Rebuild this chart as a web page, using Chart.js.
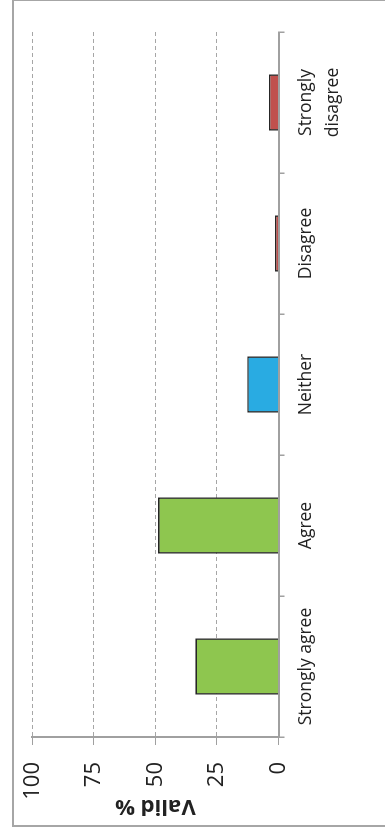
<!DOCTYPE html>
<html>
<head>
<meta charset="utf-8">
<title>Valid %</title>
<script src="https://cdn.jsdelivr.net/npm/chart.js@4/dist/chart.umd.min.js"></script>
<style>
  html, body { margin: 0; padding: 0; background: #fff; }
  body { width: 385px; height: 830px; position: relative; overflow: hidden; }
  #frame { position: absolute; left: 12px; top: -1px; width: 390px; height: 828px; border: 2px solid #a6a6a6; box-sizing: border-box; }
  /* the chart is laid out landscape, then turned a quarter to stand upright */
  #turn { position: absolute; left: 0; top: 0; width: 830px; height: 385px; transform-origin: 0 0; transform: translate(0, 830px) rotate(-90deg); }
</style>
</head>
<body>
<div id="frame"></div>
<div id="turn"><canvas id="chart" width="830" height="385"></canvas></div>
<script>
const categories = ['Strongly agree', 'Agree', 'Neither', 'Disagree', ['Strongly', 'disagree']];
const validPercent = [33.8, 48.9, 12.7, 1.4, 3.9];
const barColors = ['#8ec64f', '#8ec64f', '#29abe2', '#c0504d', '#c0504d'];
const valueTicks = [0, 25, 50, 75, 100];

Chart.defaults.font.family = "'Open Sans', sans-serif";
Chart.defaults.color = '#222222';

const ctx = document.getElementById('chart').getContext('2d');
new Chart(ctx, {
  type: 'bar',
  data: {
    labels: categories,
    datasets: [{
      data: validPercent,
      backgroundColor: barColors,
      borderColor: '#262626',
      borderWidth: 1.6,
      barPercentage: 0.4,
      categoryPercentage: 1
    }]
  },
  options: {
    responsive: false,
    animation: false,
    devicePixelRatio: 1,
    layout: { padding: { left: 0, right: 32, top: 32.3, bottom: 0 } },
    plugins: { legend: { display: false }, tooltip: { enabled: false } },
    scales: {
      x: {
        offset: true,
        grid: { display: true, drawOnChartArea: false, offset: true, tickLength: 6, color: '#a0a0a0', lineWidth: 1.5 },
        border: { display: true, color: '#a0a0a0', width: 2 },
        ticks: { font: { size: 17.5, lineHeight: 1.55 }, padding: 8, maxRotation: 0, autoSkip: false },
        afterFit: s => { s.height = 106.5; }
      },
      y: {
        min: 0,
        max: 100,
        afterBuildTicks: s => { s.ticks = valueTicks.map(v => ({ value: v })); },
        grid: { color: '#a6a6a6', lineWidth: 1, tickLength: 8, tickColor: '#a0a0a0' },
        border: { display: true, color: '#a0a0a0', width: 2, dash: [4, 3] },
        ticks: { font: { size: 22 }, padding: 17 },
        title: { display: true, text: 'Valid %', font: { size: 22, weight: 'bold' }, padding: { top: 11, bottom: 0 } },
        afterFit: s => { s.width = 93; }
      }
    }
  }
});
</script>
</body>
</html>
